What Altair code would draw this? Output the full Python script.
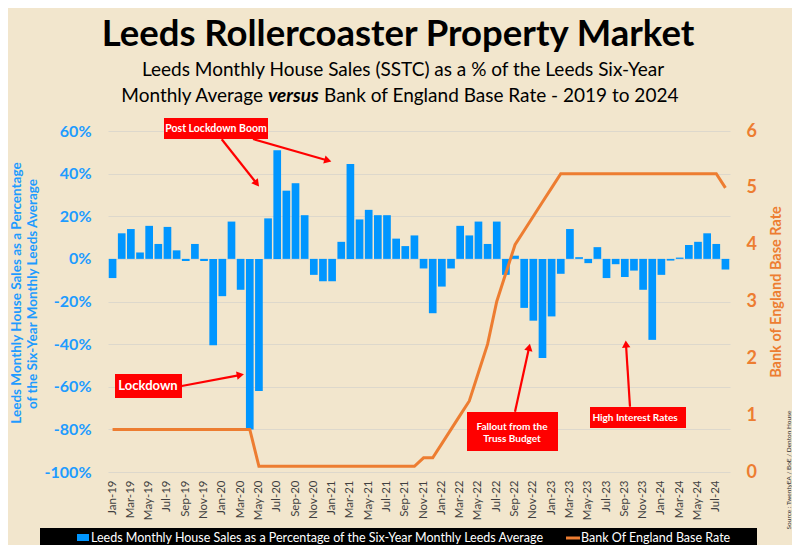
import altair as alt
import pandas as pd
import math

months = [
    "Jan-19", "Feb-19", "Mar-19", "Apr-19", "May-19", "Jun-19", "Jul-19", "Aug-19", "Sep-19", "Oct-19", "Nov-19", "Dec-19",
    "Jan-20", "Feb-20", "Mar-20", "Apr-20", "May-20", "Jun-20", "Jul-20", "Aug-20", "Sep-20", "Oct-20", "Nov-20", "Dec-20",
    "Jan-21", "Feb-21", "Mar-21", "Apr-21", "May-21", "Jun-21", "Jul-21", "Aug-21", "Sep-21", "Oct-21", "Nov-21", "Dec-21",
    "Jan-22", "Feb-22", "Mar-22", "Apr-22", "May-22", "Jun-22", "Jul-22", "Aug-22", "Sep-22", "Oct-22", "Nov-22", "Dec-22",
    "Jan-23", "Feb-23", "Mar-23", "Apr-23", "May-23", "Jun-23", "Jul-23", "Aug-23", "Sep-23", "Oct-23", "Nov-23", "Dec-23",
    "Jan-24", "Feb-24", "Mar-24", "Apr-24", "May-24", "Jun-24", "Jul-24", "Aug-24",
]

sales_pct = [
    -9, 12, 14, 3, 15.5, 7, 15, 4, -1, 7, -1, -40.5,
    -17.5, 17.5, -14.5, -80, -62, 19, 51, 32, 35.5, 20.5, -7.5, -10.5,
    -10.5, 8, 44.5, 18.5, 23, 20.5, 20.5, 9.5, 6, 11, -4.5, -25.5,
    -13, -4.5, 15.5, 11, 17.5, 7, 17.5, -7.5, 1.5, -23, -29, -46.5,
    -27, -7, 14, 0.8, -2, 5.5, -9, -2.5, -8.5, -5.5, -14.5, -38,
    -7.5, -0.8, 0.6, 6.5, 8, 12, 7, -5,
]

base_rate = [
    0.75, 0.75, 0.75, 0.75, 0.75, 0.75, 0.75, 0.75, 0.75, 0.75, 0.75, 0.75,
    0.75, 0.75, 0.75, 0.75, 0.1, 0.1, 0.1, 0.1, 0.1, 0.1, 0.1, 0.1,
    0.1, 0.1, 0.1, 0.1, 0.1, 0.1, 0.1, 0.1, 0.1, 0.1, 0.25, 0.25,
    0.5, 0.75, 1.0, 1.25, 1.75, 2.25, 3.0, 3.5, 4.0, 4.25, 4.5, 4.75,
    5.0, 5.25, 5.25, 5.25, 5.25, 5.25, 5.25, 5.25, 5.25, 5.25, 5.25, 5.25,
    5.25, 5.25, 5.25, 5.25, 5.25, 5.25, 5.25, 5.0,
]

pct_ticks = [-100, -80, -60, -40, -20, 0, 20, 40, 60]
rate_ticks = [0, 1, 2, 3, 4, 5, 6]

df = pd.DataFrame({"month": months, "pct": sales_pct, "rate": base_rate})
one = pd.DataFrame({"k": [0]})

FONT = "Lato"
BG = "#F2E6CD"
BLUE = "#0096FF"
BLUE_TXT = "#1E9BFF"
ORANGE = "#ED7D31"
RED = "#FF0000"
GRID = "#DDD8CC"

W, H = 622, 341
OX, OY = 108, 131  # page position of plot origin

x_enc = alt.X(
    "month:N", sort=months,
    scale=alt.Scale(paddingInner=0.16, paddingOuter=0.08),
    axis=alt.Axis(values=months[::2], labelAngle=-90, title=None, ticks=False, domain=False,
                  labelPadding=8, labelFont=FONT, labelFontSize=11.5, labelColor="#404040", grid=False),
)

bars = alt.Chart(df).mark_bar(color=BLUE).encode(
    x=x_enc,
    y=alt.Y("pct:Q", scale=alt.Scale(domain=[-100, 60], nice=False),
            axis=alt.Axis(orient="left", values=pct_ticks, labelExpr="datum.value + '%'", title=None,
                          grid=True, gridColor=GRID, gridWidth=1, ticks=False, domain=False,
                          labelPadding=17, labelFont=FONT, labelFontSize=16, labelFontWeight="bold",
                          labelColor=BLUE_TXT)),
)

line = alt.Chart(df).mark_line(color=ORANGE, strokeWidth=3).encode(
    x=alt.X("month:N", sort=months),
    y=alt.Y("rate:Q", scale=alt.Scale(domain=[0, 6], nice=False),
            axis=alt.Axis(orient="right", values=rate_ticks, title=None, grid=False, ticks=False,
                          domain=False, labelPadding=16, labelFont=FONT, labelFontSize=18,
                          labelFontWeight="bold", labelColor=ORANGE)),
)


def txt(text, px, py, size, color, weight="normal", angle=0, align="center",
        baseline="middle", style="normal", lh=None):
    kw = dict(text=text, fontSize=size, color=color, fontWeight=weight, angle=angle,
              align=align, baseline=baseline, font=FONT, fontStyle=style)
    if lh is not None:
        kw["lineHeight"] = lh
    return alt.Chart(one).mark_text(**kw).encode(x=alt.value(px - OX), y=alt.value(py - OY))


def box(x1, y1, x2, y2, color):
    return alt.Chart(one).mark_rect(color=color).encode(
        x=alt.value(x1 - OX), x2=alt.value(x2 - OX), y=alt.value(y1 - OY), y2=alt.value(y2 - OY))


def rule(x1, y1, x2, y2, color, w=2):
    return alt.Chart(one).mark_rule(color=color, strokeWidth=w).encode(
        x=alt.value(x1 - OX), x2=alt.value(x2 - OX), y=alt.value(y1 - OY), y2=alt.value(y2 - OY))


def arrow(x1, y1, x2, y2):
    dx, dy = x2 - x1, y2 - y1
    L = math.hypot(dx, dy)
    ux, uy = dx / L, dy / L
    ang = math.degrees(math.atan2(dx, -dy)) % 360
    hx, hy = x2 - ux * 4, y2 - uy * 4
    shaft = rule(x1, y1, x2 - ux * 6, y2 - uy * 6, RED, 2.2)
    head = alt.Chart(one).mark_point(shape="triangle-up", filled=True, size=70, angle=ang,
                                     color=RED, opacity=1).encode(
        x=alt.value(hx - OX), y=alt.value(hy - OY))
    return [shaft, head]


layers = [bars, line]

# titles
layers += [
    txt("Leeds Rollercoaster Property Market", 398, 46, 36.5, "black", "bold", baseline="alphabetic"),
    txt("Leeds Monthly House Sales (SSTC) as a % of the Leeds Six-Year", 403, 76, 19, "black",
        baseline="alphabetic"),
    txt("Monthly Average", 263, 102, 19, "black", align="right", baseline="alphabetic"),
    txt("versus", 268, 102, 19, "black", "bold", align="left", baseline="alphabetic", style="italic"),
    txt("Bank of England Base Rate - 2019 to 2024", 324, 102, 19, "black", align="left",
        baseline="alphabetic"),
]

# axis titles
layers += [
    txt("Leeds Monthly House Sales as a Percentage", 17, 293, 13.5, BLUE_TXT, "bold", angle=270),
    txt("of the Six-Year Monthly Leeds Average", 33, 294, 13.5, BLUE_TXT, "bold", angle=270),
    txt("Bank of England Base Rate", 777, 292, 14.5, ORANGE, "bold", angle=270),
    txt("Source : TwentyEA / BoE / Denton House", 789, 470, 6.5, "#333333", angle=270),
]

# annotations
layers += arrow(221.7, 139.3, 259.3, 186.7)
layers += arrow(253, 139, 331.7, 161.7)
layers += arrow(181.7, 386, 244.3, 374.3)
layers += arrow(515, 411.7, 530, 343.3)
layers += arrow(630, 406.7, 625.7, 340)
layers += [
    box(164, 118, 268, 139, RED),
    txt("Post Lockdown Boom", 216, 128.5, 10.5, "white", "bold"),
    box(115, 374, 182, 398, RED),
    txt("Lockdown", 148, 386, 13, "white", "bold"),
    box(467, 412, 558, 451, RED),
    txt(["Fallout from the", "Truss Budget"], 512, 427, 10, "white", "bold", lh=12),
    box(590, 407, 686, 428, RED),
    txt("High Interest Rates", 635, 417.5, 10, "white", "bold"),
]

# legend
layers += [
    box(40, 528, 757, 548, "black"),
    box(77, 534, 89, 541, BLUE),
    txt("Leeds Monthly House Sales as a Percentage of the Six-Year Monthly Leeds Average", 91, 538,
        12.5, "white", align="left"),
    rule(566, 538, 580, 538, ORANGE, 3),
    txt("Bank Of England Base Rate", 581, 538, 12.5, "white", align="left"),
]

chart = alt.layer(*layers).resolve_scale(y="independent").properties(
    width=W, height=H,
    autosize=alt.AutoSizeParams(type="none"),
    padding={"left": OX - 8, "top": OY - 8, "right": 800 - 8 - (OX - 8) - W - 8, "bottom": 553 - 8 - (OY - 8) - H - 8},
    background=BG,
).configure_view(stroke=None)

chart.save("out.html", embed_options={"renderer": "svg", "actions": False})
